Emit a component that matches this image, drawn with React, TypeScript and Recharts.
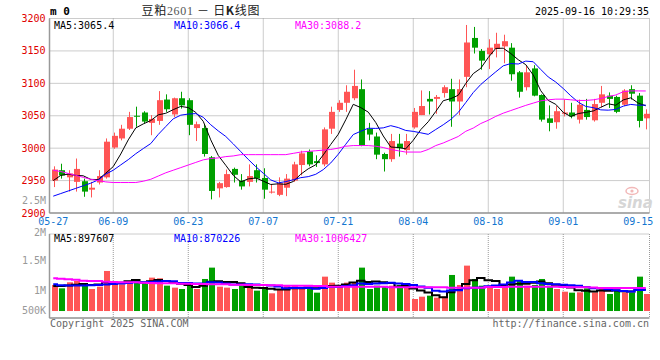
import { Bar, CartesianGrid, ComposedChart, Line, XAxis, YAxis } from 'recharts';

// trading days shown on the daily K chart
const DATES = [
  '05-27', '05-28', '05-29', '05-30', '06-03', '06-04', '06-05', '06-06', '06-09', '06-10',
  '06-11', '06-12', '06-13', '06-16', '06-17', '06-18', '06-19', '06-20', '06-23', '06-24',
  '06-25', '06-26', '06-27', '06-30', '07-01', '07-02', '07-03', '07-04', '07-07', '07-08',
  '07-09', '07-10', '07-11', '07-14', '07-15', '07-16', '07-17', '07-18', '07-21', '07-22',
  '07-23', '07-24', '07-25', '07-28', '07-29', '07-30', '07-31', '08-01', '08-04', '08-05',
  '08-06', '08-07', '08-08', '08-11', '08-12', '08-13', '08-14', '08-15', '08-18', '08-19',
  '08-20', '08-21', '08-22', '08-25', '08-26', '08-27', '08-28', '08-29', '09-01', '09-02',
  '09-03', '09-04', '09-05', '09-08', '09-09', '09-10', '09-11', '09-12', '09-15', '09-16',
];

const OPEN = [
  2950, 2966, 2955, 2948, 2949, 2936, 2947, 2955, 3001, 3015,
  3030, 3050, 3055, 3039, 3042, 3075, 3052, 3077, 3074, 3031,
  3031, 2986, 2938, 2940, 2968, 2950, 2948, 2966, 2954, 2932,
  2928, 2939, 2950, 2974, 2995, 2980, 2975, 3030, 3059, 3070,
  3077, 3091, 3030, 3018, 2991, 2983, 3007, 2997, 3032, 3051,
  3076, 3076, 3085, 3091, 3072, 3110, 3170, 3150, 3145, 3153,
  3157, 3155, 3117, 3094, 3123, 3082, 3046, 3040, 3053, 3055,
  3044, 3059, 3043, 3070, 3081, 3079, 3067, 3091, 3081, 3046,
];

const HIGH = [
  2972, 2976, 2966, 2984, 2953, 2948, 2966, 3015, 3024, 3036,
  3056, 3064, 3057, 3051, 3088, 3083, 3078, 3087, 3077, 3041,
  3036, 2988, 2948, 2967, 2970, 2960, 2975, 2975, 2969, 2944,
  2955, 2960, 2979, 2996, 2998, 2989, 3032, 3064, 3074, 3097,
  3121, 3106, 3039, 3024, 2993, 3022, 3022, 3022, 3062, 3089,
  3088, 3082, 3097, 3107, 3106, 3190, 3187, 3153, 3168, 3178,
  3175, 3162, 3119, 3128, 3128, 3083, 3066, 3065, 3075, 3070,
  3075, 3076, 3076, 3096, 3086, 3081, 3091, 3097, 3085, 3060,
];

const LOW = [
  2940, 2953, 2933, 2933, 2925, 2924, 2944, 2953, 2999, 3012,
  3028, 3033, 3038, 3020, 3036, 3056, 3048, 3061, 3020, 3011,
  2987, 2921, 2924, 2939, 2947, 2936, 2941, 2947, 2922, 2930,
  2926, 2926, 2948, 2958, 2972, 2971, 2972, 3022, 3056, 3056,
  3074, 3003, 3012, 2983, 2964, 2979, 2987, 2990, 3030, 3051,
  3052, 3053, 3078, 3033, 3051, 3094, 3146, 3121, 3122, 3140,
  3131, 3104, 3078, 3089, 3080, 3041, 3026, 3030, 3049, 3046,
  3038, 3044, 3041, 3063, 3062, 3054, 3065, 3075, 3032, 3029,
];

const CLOSE = [
  2967, 2958, 2961, 2968, 2933, 2939, 2957, 3010, 3019, 3030,
  3048, 3049, 3041, 3045, 3074, 3060, 3077, 3066, 3036, 3037,
  2991, 2934, 2946, 2960, 2959, 2941, 2957, 2953, 2936, 2933,
  2946, 2953, 2975, 2992, 2975, 2977, 3029, 3056, 3070, 3087,
  3096, 3004, 3021, 2990, 2983, 3011, 3000, 3011, 3056, 3065,
  3072, 3079, 3094, 3072, 3091, 3163, 3155, 3135, 3155, 3161,
  3165, 3114, 3087, 3117, 3081, 3044, 3039, 3057, 3055, 3049,
  3067, 3048, 3068, 3083, 3076, 3056, 3089, 3084, 3042, 3053,
];

const MA5 = [
  2950, 2958, 2960, 2958, 2957.4, 2951.8, 2951.6, 2961.4, 2971.6, 2991.0,
  3012.8, 3031.2, 3037.4, 3042.6, 3051.4, 3053.8, 3059.4, 3064.4, 3062.6, 3055.2,
  3041.4, 3012.8, 2988.8, 2973.6, 2958.0, 2948.0, 2952.6, 2954.0, 2949.2, 2944.0,
  2945.0, 2944.2, 2948.6, 2959.8, 2968.2, 2974.4, 2989.6, 3005.8, 3021.4, 3043.8,
  3067.6, 3062.6, 3055.6, 3039.6, 3018.8, 3001.8, 3001.0, 2999.0, 3012.2, 3028.6,
  3040.8, 3056.6, 3073.2, 3076.4, 3081.6, 3099.8, 3115.0, 3123.2, 3139.8, 3153.8,
  3154.2, 3146.0, 3136.4, 3128.8, 3112.8, 3088.6, 3073.6, 3067.6, 3055.2, 3048.8,
  3053.4, 3055.2, 3057.4, 3063.0, 3068.4, 3066.2, 3074.4, 3077.6, 3069.4, 3065.4,
];

const MA10 = [
  2926, 2930, 2934, 2938, 2942, 2946, 2951, 2960, 2966, 2974.2,
  2982.3, 2991.4, 2999.4, 3007.1, 3021.2, 3033.3, 3045.3, 3050.9, 3052.6, 3053.3,
  3047.6, 3036.1, 3026.6, 3018.1, 3006.6, 2994.7, 2982.7, 2971.4, 2961.4, 2951.0,
  2946.5, 2948.4, 2951.3, 2954.5, 2956.1, 2959.7, 2966.9, 2977.2, 2990.6, 3006.0,
  3021.0, 3026.1, 3030.7, 3030.5, 3031.3, 3034.7, 3031.8, 3027.3, 3025.9, 3023.7,
  3021.3, 3028.8, 3036.1, 3044.3, 3055.1, 3070.3, 3085.8, 3098.2, 3108.1, 3117.7,
  3127.0, 3130.5, 3129.8, 3134.3, 3133.3, 3121.4, 3109.8, 3102.0, 3092.0, 3080.8,
  3071.0, 3064.4, 3062.5, 3059.1, 3058.6, 3059.8, 3064.8, 3067.5, 3066.2, 3066.4,
];

const MA30 = [
  2966, 2964, 2961, 2958, 2955, 2952, 2950, 2948, 2947, 2947,
  2947, 2947, 2949, 2952, 2957, 2962, 2966, 2970, 2974, 2978,
  2982, 2984, 2985, 2987, 2988, 2990, 2990, 2990, 2990, 2990,
  2990, 2990, 2992, 2994, 2995, 2996, 2997, 2998, 3000, 3003,
  3004, 3004, 3004, 3003, 3001, 2998, 2996, 2994, 2994, 2994,
  2998, 3004, 3008, 3013, 3018, 3026, 3031, 3038, 3043, 3049,
  3054, 3058, 3062, 3066, 3069.5, 3073, 3074.6, 3075.6, 3075.6, 3074.6,
  3073.6, 3073.6, 3074.6, 3076.6, 3079.7, 3082, 3087, 3088.3, 3088.3, 3088.2,
];

// volume, thousand lots
const VOLUME = [
  1082, 943, 1193, 1248, 1123, 915, 1012, 1664, 1151, 1109,
  1248, 1290, 1151, 1387, 1359, 1054, 971, 915, 1109, 915,
  1331, 1803, 1012, 971, 915, 1054, 1054, 846, 915, 735,
  915, 1082, 1082, 915, 915, 763, 1428, 1179, 971, 1179,
  1179, 1803, 915, 1054, 1012, 1054, 1082, 1012, 499, 596,
  638, 555, 596, 1498, 1082, 1886, 1331, 1054, 1054, 915,
  1040, 1428, 1248, 1054, 1082, 1331, 1054, 915, 804, 763,
  777, 943, 777, 985, 707, 846, 777, 763, 1428, 707,
];

const VOL_MA5 = [
  1040, 1040, 1060, 1090, 1118, 1084, 1098, 1192, 1173, 1170,
  1237, 1292, 1190, 1237, 1287, 1248, 1184, 1137, 1082, 993,
  1048, 1215, 1234, 1206, 1206, 1151, 1001, 968, 957, 921,
  893, 899, 946, 946, 982, 951, 1021, 1040, 1051, 1104,
  1187, 1262, 1209, 1226, 1193, 1168, 1023, 1043, 932, 849,
  765, 660, 577, 777, 874, 1123, 1279, 1370, 1281, 1248,
  1079, 1098, 1137, 1137, 1170, 1229, 1154, 1087, 1037, 973,
  863, 840, 813, 849, 838, 852, 818, 816, 904, 898,
];

const VOL_MA10 = [
  1110, 1070, 1060, 1060, 1065, 1070, 1080, 1100, 1120, 1144,
  1161, 1195, 1191, 1205, 1229, 1243, 1238, 1164, 1160, 1140,
  1148, 1200, 1186, 1144, 1100, 1100, 1108, 1101, 1082, 1064,
  1022, 950, 957, 952, 952, 922, 960, 993, 999, 1043,
  1069, 1142, 1125, 1139, 1149, 1178, 1143, 1126, 1079, 1021,
  967, 842, 810, 855, 862, 944, 970, 974, 1029, 1061,
  1101, 1189, 1254, 1209, 1209, 1154, 1126, 1112, 1087, 1072,
  1046, 997, 950, 943, 906, 858, 829, 815, 877, 870,
];

const VOL_MA30 = [
  1359, 1345, 1317, 1304, 1262, 1248, 1248, 1220, 1206, 1193,
  1193, 1193, 1179, 1165, 1151, 1151, 1151, 1137, 1137, 1123,
  1123, 1109, 1109, 1109, 1096, 1096, 1082, 1082, 1082, 1068,
  1068, 1054, 1054, 1054, 1054, 1040, 1040, 1012, 1012, 1012,
  1012, 1012, 1012, 1012, 1012, 985, 985, 985, 985, 985,
  985, 985, 985, 971, 971, 971, 971, 971, 1000, 1000,
  1000, 1005, 1010, 1012, 1012, 1012, 1008, 1005, 1000, 990,
  985, 985, 980, 960, 955, 955, 955, 955, 955, 955,
];

const DATE_TICKS = ['05-27', '06-09', '06-23', '07-07', '07-21', '08-04', '08-18', '09-01', '09-15'];
const GRID_TICKS = DATE_TICKS.slice(1, -1);
const PRICE_TICKS = [2900, 2950, 3000, 3050, 3100, 3150, 3200];
const VOL_DOMAIN = [-290, 3200];
const VOL_GRID_TICKS = [1500, 2300, 3200];

const UP = '#ff5555';
const DOWN = '#00a000';
const FRAME = '#999';
const MONO = '"DejaVu Sans Mono", monospace';

const rows = DATES.map((date, i) => ({
  date,
  open: OPEN[i],
  high: HIGH[i],
  low: LOW[i],
  close: CLOSE[i],
  range: [LOW[i], HIGH[i]],
  ma5: MA5[i],
  ma10: MA10[i],
  ma30: MA30[i],
  vol: VOLUME[i],
  vma5: VOL_MA5[i],
  vma10: VOL_MA10[i],
  vma30: VOL_MA30[i],
}));

function Candle(props: any) {
  const { x, y, width, height, payload } = props;
  const top = Math.min(y, y + height);
  const h = Math.abs(height);
  const toY = (v: number) => top + ((payload.high - v) / (payload.high - payload.low)) * h;
  const color = payload.close >= payload.open ? UP : DOWN;
  const cx = Math.round(x + width / 2);
  const bodyTop = toY(Math.max(payload.open, payload.close));
  const bodyBottom = toY(Math.min(payload.open, payload.close));
  return (
    <g>
      <line x1={cx + 0.5} x2={cx + 0.5} y1={top} y2={top + h} stroke={color} strokeWidth={1} />
      <rect x={cx - 2} y={bodyTop} width={6} height={Math.max(1, bodyBottom - bodyTop)} fill={color} />
    </g>
  );
}

function VolumeBar(props: any) {
  const { x, y, width, height, payload } = props;
  const cx = Math.round(x + width / 2);
  return (
    <rect
      x={cx - 2}
      y={Math.min(y, y + height)}
      width={6}
      height={Math.abs(height)}
      fill={payload.close >= payload.open ? UP : DOWN}
    />
  );
}

function PriceTick({ x, y, payload }: any) {
  return (
    <text x={x} y={y + 3.5} textAnchor="end" fill="#e00000" fontSize={10} fontFamily={MONO}>
      {payload.value}
    </text>
  );
}

function DateTick({ x, y, payload }: any) {
  return (
    <text x={x} y={y + 10.3} textAnchor="middle" fill="#1376d0" fontSize={10} fontFamily={MONO}>
      {payload.value}
    </text>
  );
}

export default function App() {
  return (
    <div style={{ position: 'relative', width: 660, height: 360, background: '#fff', overflow: 'hidden' }}>
      <style>{'body{margin:0}'}</style>

      <div style={{ position: 'absolute', left: 0, top: 0 }}>
        <ComposedChart width={660} height={240} data={rows} margin={{ top: 18.5, right: 10.5, bottom: 0, left: 0 }}>
          <CartesianGrid xAxisId="grid" stroke={FRAME} strokeDasharray="1 1" />
          <XAxis
            dataKey="date"
            ticks={DATE_TICKS}
            interval={0}
            height={27}
            tickSize={0}
            tickLine={false}
            tick={<DateTick />}
            axisLine={{ stroke: FRAME, strokeWidth: 1.5 }}
          />
          <XAxis xAxisId="grid" dataKey="date" ticks={GRID_TICKS} interval={0} hide />
          <YAxis
            domain={[2900, 3200]}
            ticks={PRICE_TICKS}
            width={49.5}
            tickSize={0}
            tickMargin={4}
            tickLine={false}
            tick={<PriceTick />}
            axisLine={{ stroke: FRAME, strokeWidth: 1.5 }}
            allowDataOverflow
          />
          <YAxis
            yAxisId="edge"
            orientation="right"
            width={0}
            domain={[0, 1]}
            tick={false}
            tickLine={false}
            axisLine={{ stroke: FRAME, strokeWidth: 2 }}
          />
          <Bar dataKey="range" shape={<Candle />} barSize={6} isAnimationActive={false} />
          <Line dataKey="ma5" stroke="#000" strokeWidth={1} dot={false} isAnimationActive={false} />
          <Line dataKey="ma10" stroke="#0000ff" strokeWidth={1} dot={false} isAnimationActive={false} />
          <Line dataKey="ma30" stroke="#ff00ff" strokeWidth={1} dot={false} isAnimationActive={false} />
        </ComposedChart>
      </div>

      <div style={{ position: 'absolute', left: 0, top: 220 }}>
        <ComposedChart width={660} height={110} data={rows} margin={{ top: 14, right: 10.5, bottom: 0, left: 0 }}>
          <CartesianGrid xAxisId="grid" stroke={FRAME} strokeDasharray="1 1" />
          <XAxis dataKey="date" height={12} tick={false} tickLine={false} axisLine={{ stroke: FRAME, strokeWidth: 1.5 }} />
          <XAxis xAxisId="grid" dataKey="date" ticks={GRID_TICKS} interval={0} hide />
          <YAxis
            domain={VOL_DOMAIN}
            ticks={VOL_GRID_TICKS}
            width={49.5}
            tick={false}
            tickLine={false}
            axisLine={{ stroke: FRAME, strokeWidth: 1.5 }}
            allowDataOverflow
          />
          <YAxis
            yAxisId="edge"
            orientation="right"
            width={0}
            domain={[0, 1]}
            tick={false}
            tickLine={false}
            axisLine={{ stroke: FRAME, strokeWidth: 2 }}
          />
          <Bar dataKey="vol" shape={<VolumeBar />} barSize={6} isAnimationActive={false} />
          <Line type="step" dataKey="vma5" stroke="#000" strokeWidth={2} dot={false} isAnimationActive={false} />
          <Line type="step" dataKey="vma10" stroke="#0000ff" strokeWidth={2} dot={false} isAnimationActive={false} />
          <Line type="step" dataKey="vma30" stroke="#ff00ff" strokeWidth={2} dot={false} isAnimationActive={false} />
        </ComposedChart>
      </div>

      <svg width={660} height={360} style={{ position: 'absolute', left: 0, top: 0, pointerEvents: 'none' }}>
        <g fontFamily={MONO} fontSize={10}>
          <text x={50} y={15} fontSize={11} fontWeight="bold">m 0</text>
          <text
            x={141.5}
            y={14.5}
            fontSize={12}
            fontFamily='"Noto Sans CJK SC", sans-serif'
            fill="#222"
            textLength={118}
            lengthAdjust="spacing"
          >
            豆粕<tspan fontFamily='"Liberation Serif", serif' fill="#555">2601</tspan> － 日<tspan fontWeight="bold">K</tspan>线图
          </text>
          <text x={649} y={15} textAnchor="end" fontSize={11} textLength={114} lengthAdjust="spacingAndGlyphs">
            2025-09-16 10:29:35
          </text>

          <text x={54} y={28.5} fill="#000">MA5:3065.4</text>
          <text x={174} y={28.5} fill="#0000ff">MA10:3066.4</text>
          <text x={295} y={28.5} fill="#ff00ff">MA30:3088.2</text>

          <text x={54} y={241.5} fill="#000">MA5:897607</text>
          <text x={174} y={241.5} fill="#0000ff">MA10:870226</text>
          <text x={295} y={241.5} fill="#ff00ff">MA30:1006427</text>

          <g fill="#999" textAnchor="end">
            <text x={46} y={204}>2.5M</text>
            <text x={46} y={235.8}>2M</text>
            <text x={46} y={264}>1.5M</text>
            <text x={46} y={294}>1M</text>
            <text x={46} y={314}>500K</text>
          </g>

          <text x={50} y={327} fill="#666">Copyright 2025 SINA.COM</text>
          <text x={649} y={327} fill="#666" textAnchor="end">http://finance.sina.com.cn</text>
        </g>

        <g>
          <ellipse cx={632} cy={191} rx={6} ry={3.5} fill="none" stroke="#f2b8b8" strokeWidth={1.5} />
          <circle cx={632} cy={191} r={1.6} fill="#f2b8b8" />
          <text x={618} y={208} fontSize={15} fontStyle="italic" fontWeight="bold" fill="#d6d6d6" fontFamily="DejaVu Sans">
            sina
          </text>
        </g>
      </svg>
    </div>
  );
}
